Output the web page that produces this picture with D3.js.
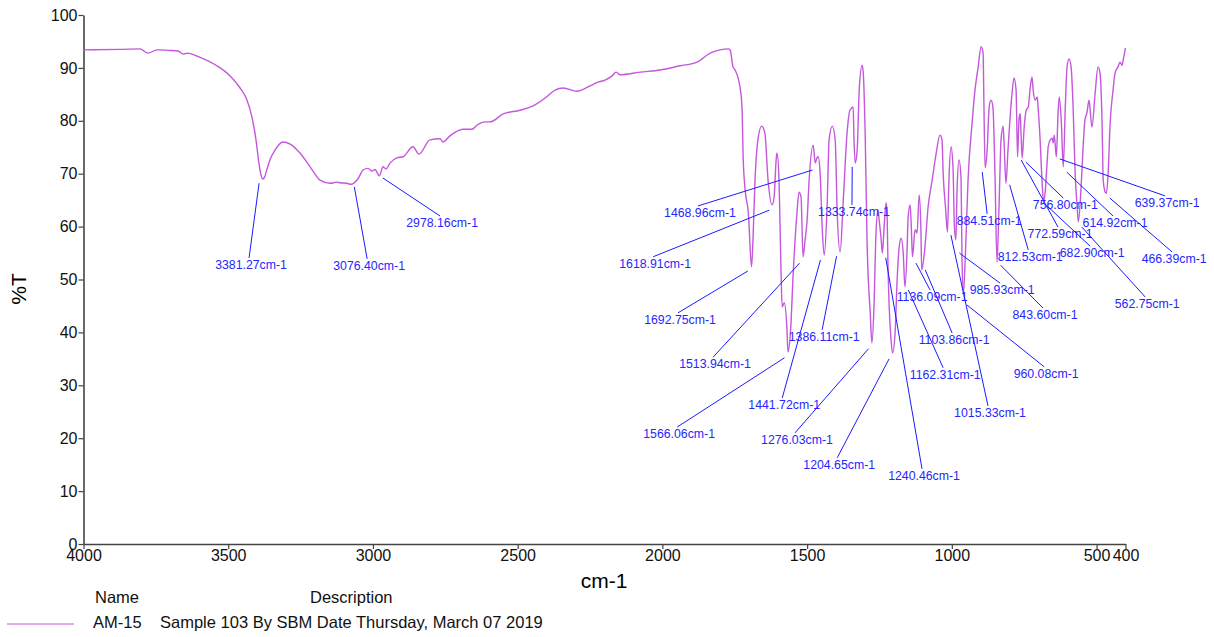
<!DOCTYPE html>
<html>
<head>
<meta charset="utf-8">
<script src="https://cdn.jsdelivr.net/npm/d3@7"></script>
<style>
  body { margin: 0; background: #fff; }
  svg { display: block; font-family: "Liberation Sans", Arial, sans-serif; }
</style>
</head>
<body>
<svg id="chart" width="1214" height="637"></svg>
<script>
// spectrum (cm-1, %T)
var wavenumbers = [4000, 3874, 3805, 3777, 3746, 3701, 3673, 3656, 3642, 3597, 3539, 3494, 3459, 3438, 3418, 3404, 3394, 3386, 3381, 3374,
  3369, 3356, 3338, 3311, 3286, 3252, 3217, 3183, 3148, 3124, 3114, 3090, 3076, 3051, 3034, 3017, 3003, 2993, 2978, 2965,
  2955, 2941, 2917, 2896, 2862, 2841, 2803, 2768, 2758, 2735, 2689, 2658, 2640, 2612, 2595, 2550, 2492, 2447, 2405, 2371,
  2343, 2295, 2250, 2222, 2198, 2174, 2160, 2146, 2077, 2008, 1939, 1880, 1835, 1801, 1773, 1766, 1756, 1749, 1732, 1725,
  1721, 1714, 1703, 1692, 1687, 1680, 1670, 1657, 1646, 1635, 1621, 1614, 1607, 1604, 1597, 1590, 1586, 1579, 1570, 1566,
  1557, 1548, 1535, 1528, 1521, 1514, 1507, 1500, 1493, 1479, 1472, 1466, 1462, 1455, 1448, 1441, 1431, 1424, 1413, 1403,
  1396, 1386, 1375, 1362, 1352, 1341, 1338, 1334, 1327, 1320, 1310, 1306, 1299, 1293, 1282, 1276, 1269, 1262, 1255, 1251,
  1244, 1240, 1234, 1227, 1224, 1220, 1210, 1205, 1196, 1189, 1182, 1175, 1168, 1162, 1155, 1151, 1144, 1140, 1136, 1127,
  1120, 1113, 1107, 1104, 1093, 1082, 1068, 1054, 1041, 1034, 1030, 1022, 1015, 1010, 1003, 996, 991, 986, 982, 975,
  968, 965, 960, 953, 944, 930, 920, 909, 899, 892, 889, 885, 878, 871, 865, 858, 851, 844, 837, 830,
  823, 820, 813, 806, 792, 785, 778, 773, 768, 764, 761, 757, 750, 743, 736, 730, 723, 719, 712, 705,
  702, 695, 688, 683, 677, 671, 667, 660, 653, 650, 646, 639, 633, 629, 622, 615, 608, 602, 595, 588,
  581, 574, 567, 563, 554, 547, 540, 533, 526, 523, 516, 505, 495, 488, 481, 477, 470, 466, 460, 453,
  443, 436, 429, 426, 419, 412, 408, 400];
var transmittance = [93.4, 93.5, 93.6, 92.8, 93.4, 93.3, 93.2, 92.6, 92.8, 92.0, 90.4, 88.5, 86.2, 84.3, 80.7, 76.4, 72.0, 69.6, 69.0, 69.4,
  70.3, 72.6, 74.5, 76.0, 75.6, 73.9, 71.3, 68.8, 68.2, 68.4, 68.3, 68.2, 68.0, 69.1, 70.7, 71.0, 70.5, 70.8, 69.6, 71.3,
  70.9, 72.0, 73.0, 73.2, 75.1, 73.7, 76.4, 76.6, 76.0, 77.1, 78.4, 78.4, 79.2, 79.8, 79.8, 81.3, 82.0, 82.8, 84.3, 85.8,
  86.2, 85.6, 86.6, 87.3, 87.7, 88.5, 89.2, 88.7, 89.2, 89.6, 90.4, 91.1, 92.8, 93.4, 93.6, 93.4, 90.2, 89.6, 86.4, 82.6,
  73.2, 66.9, 62.6, 52.4, 57.5, 68.8, 76.4, 79.0, 77.7, 68.8, 64.1, 65.6, 72.6, 73.9, 68.8, 51.2, 44.8, 45.6, 41.0, 36.3,
  40.5, 51.2, 62.6, 66.5, 65.6, 54.3, 57.5, 61.2, 68.8, 75.4, 72.0, 73.0, 73.2, 70.1, 59.9, 54.6, 63.7, 76.4, 79.0, 76.4,
  62.6, 55.2, 65.0, 77.7, 82.0, 82.6, 76.4, 72.0, 74.5, 85.8, 90.5, 89.0, 76.4, 57.5, 43.7, 38.0, 44.8, 58.8, 63.1, 61.2,
  57.5, 55.0, 59.9, 64.5, 62.6, 51.2, 38.6, 36.1, 39.9, 49.9, 56.1, 57.8, 55.0, 48.6, 55.0, 61.8, 64.1, 59.9, 54.3, 59.4,
  58.8, 66.0, 59.9, 51.8, 56.1, 63.7, 68.8, 73.9, 77.3, 76.4, 70.1, 63.7, 59.0, 68.8, 75.1, 71.3, 59.9, 57.5, 66.9, 72.6,
  68.8, 54.3, 47.4, 55.0, 68.8, 79.6, 85.8, 90.2, 94.0, 92.8, 82.6, 71.1, 74.5, 82.6, 83.9, 82.6, 70.1, 53.3, 63.7, 76.4,
  79.0, 76.4, 68.2, 74.5, 85.2, 88.1, 85.8, 73.2, 80.2, 81.4, 77.7, 73.0, 78.8, 82.0, 82.6, 85.8, 88.3, 85.8, 83.9, 84.5,
  82.6, 76.4, 68.2, 64.5, 66.9, 72.0, 75.1, 76.4, 76.7, 75.8, 77.3, 73.2, 81.4, 84.5, 80.2, 71.3, 82.6, 90.2, 91.7, 90.2,
  82.6, 70.1, 63.7, 60.9, 66.9, 74.5, 80.2, 81.6, 83.9, 82.6, 78.8, 85.2, 90.2, 89.0, 79.6, 68.8, 66.5, 66.3, 70.1, 79.6,
  85.8, 89.0, 89.9, 90.2, 91.1, 90.5, 91.5, 93.8];

// labelled peaks
var peakLabels = ["3381.27", "3076.40", "2978.16", "1692.75", "1618.91", "1566.06", "1513.94", "1468.96", "1441.72", "1386.11",
  "1333.74", "1276.03", "1240.46", "1204.65", "1162.31", "1136.09", "1103.86", "1015.33", "985.93", "960.08",
  "884.51", "843.60", "812.53", "772.59", "756.80", "682.90", "639.37", "614.92", "562.75", "466.39"];

// leader lines, in data units: [start %T, end cm-1, end %T]
var leaders = [[68.2, 3428, 54.1], [67.5, 3020, 53.9], [69.2, 2768, 62.0], [51.6, 1946, 43.7], [63.1, 2032, 54.3],
  [35.2, 1949, 22.1], [53.1, 1825, 35.3], [70.7, 1877, 63.9], [53.7, 1586, 27.6], [54.4, 1448, 40.5],
  [71.3, 1345, 64.1], [36.9, 1542, 21.0], [54.1, 1103, 14.2], [35.0, 1396, 16.3], [48.0, 1030, 33.3],
  [53.1, 1075, 48.0], [51.8, 999, 39.9], [58.4, 875, 26.1], [55.0, 833, 49.3], [45.2, 681, 33.5],
  [70.3, 878, 62.4], [52.7, 685, 44.6], [67.9, 736, 55.6], [72.6, 633, 59.9], [72.2, 615, 65.4],
  [63.9, 522, 56.3], [72.8, 263, 65.8], [70.3, 443, 62.0], [59.9, 332, 46.7], [65.4, 239, 55.2]];

var xTicks = [4000, 3500, 3000, 2500, 2000, 1500, 1000, 500, 400];
var yTicks = [0, 10, 20, 30, 40, 50, 60, 70, 80, 90, 100];

var sampleName = "AM-15";
var sampleDesc = "Sample 103 By SBM Date Thursday, March 07 2019";

var lineColor = "#c457dc";
var labelColor = "#2626ff";

function whenDocumentLoaded(action) {
  if (document.readyState === "loading") {
    document.addEventListener("DOMContentLoaded", action);
  } else {
    action();
  }
}

function drawChart() {
  var svg = d3.select("#chart");
  svg.append("rect").attr("width", 1214).attr("height", 637).attr("fill", "#fff");

  var x = d3.scaleLinear().domain([4000, 400]).range([83.5, 1125.5]);
  var y = d3.scaleLinear().domain([0, 100]).range([544, 15]);

  var xAxis = svg.append("g")
      .attr("transform", "translate(0,544)")
      .call(d3.axisBottom(x).tickValues(xTicks).tickFormat(d3.format("d"))
        .tickSize(5).tickSizeOuter(0).tickPadding(1));
  var yAxis = svg.append("g")
      .attr("transform", "translate(83.5,0)")
      .call(d3.axisLeft(y).tickValues(yTicks).tickFormat(d3.format("d"))
        .tickSize(5).tickSizeOuter(0).tickPadding(1));

  [xAxis, yAxis].forEach(function(g) {
    g.selectAll("path").attr("stroke", "#444").attr("stroke-width", 1.6);
    g.selectAll("line").attr("stroke", "#444").attr("stroke-width", 1.2);
    g.selectAll("text").attr("fill", "#111").style("font-size", "16px")
      .style("font-family", "'Liberation Sans', Arial, sans-serif");
  });

  // axis titles
  svg.append("text")
      .attr("transform", "translate(26,289) rotate(-90)")
      .attr("text-anchor", "middle")
      .style("font-size", "21px")
      .text("%T");
  svg.append("text")
      .attr("x", 604).attr("y", 588)
      .attr("text-anchor", "middle")
      .style("font-size", "21px")
      .text("cm-1");

  // spectrum
  var points = wavenumbers.map(function(w, i) { return [w, transmittance[i]]; });
  var line = d3.line()
      .x(function(d) { return x(d[0]); })
      .y(function(d) { return y(d[1]); })
      .curve(d3.curveMonotoneX);
  svg.append("path")
      .datum(points)
      .attr("d", line)
      .attr("fill", "none")
      .attr("stroke", lineColor)
      .attr("stroke-width", 1.4)
      .attr("stroke-linejoin", "round");

  // peak labels
  var ann = svg.append("g");
  peakLabels.forEach(function(p, i) {
    var l = leaders[i];
    var px = x(+p), ex = x(l[1]), ey = y(l[2]);
    var sx = px + (ex < px ? -3.5 : 3.5);
    if (Math.abs(ex - px) < 4) sx = px - 3;
    ann.append("line")
        .attr("x1", sx).attr("y1", y(l[0]))
        .attr("x2", ex).attr("y2", ey)
        .attr("stroke", "#1a1aff")
        .attr("stroke-width", 1);
    ann.append("text")
        .attr("x", ex + 2).attr("y", ey + 11)
        .attr("text-anchor", "middle")
        .attr("fill", labelColor)
        .style("font-size", "12.3px")
        .text(p + "cm-1");
  });

  // legend
  var leg = svg.append("g").style("font-size", "16.5px").attr("fill", "#111");
  leg.append("text").attr("x", 95).attr("y", 603).text("Name");
  leg.append("text").attr("x", 310).attr("y", 603).text("Description");
  leg.append("line")
      .attr("x1", 7).attr("x2", 74).attr("y1", 624).attr("y2", 624)
      .attr("stroke", lineColor).attr("stroke-width", 1);
  leg.append("text").attr("x", 93).attr("y", 628).text(sampleName);
  leg.append("text").attr("x", 160).attr("y", 628).text(sampleDesc);
}

whenDocumentLoaded(drawChart);
</script>
</body>
</html>
